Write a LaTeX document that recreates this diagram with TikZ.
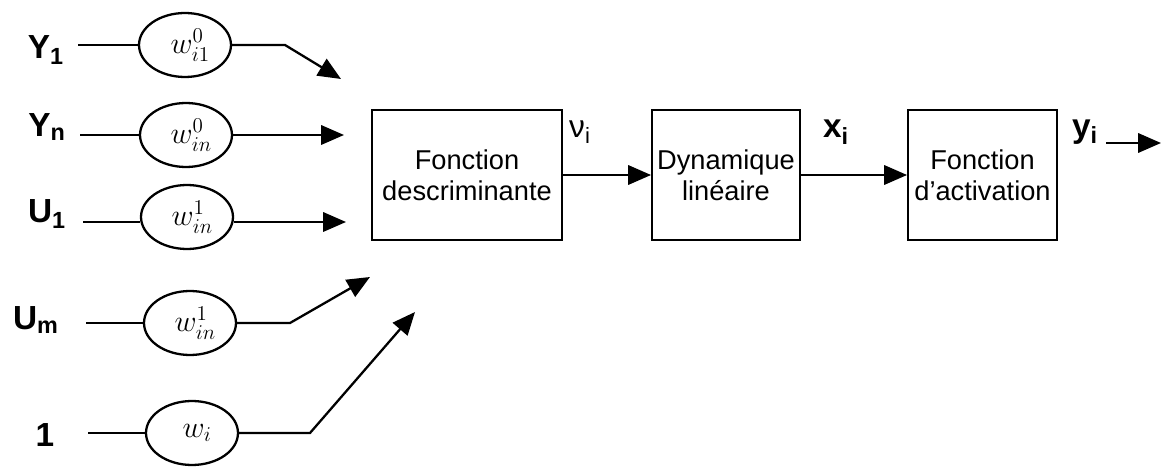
\documentclass[tikz,border=0pt]{standalone}
\usepackage{fontspec}
\setmainfont{Liberation Sans}
\setsansfont{Liberation Sans}
\usetikzlibrary{shapes.geometric,arrows.meta}
\tikzset{
  lab/.style={font=\sffamily\bfseries\fontsize{19}{19}\selectfont, inner sep=0},
  sig/.style={font=\sffamily\fontsize{18}{18}\selectfont, inner sep=0},
  wt/.style={ellipse, draw, line width=1.3pt, minimum width=1.84cm, minimum height=1.28cm, inner sep=0, font=\fontsize{17}{17}\selectfont},
  blk/.style={draw, line width=1.1pt, align=center, font=\fontsize{15.5}{17.5}\selectfont, inner sep=0, minimum height=2.6cm},
  conn/.style={line width=1.3pt},
  arr/.style={conn, -{Triangle[length=13pt,width=11pt]}}
}
\begin{document}
\begin{tikzpicture}[x=0.02cm,y=-0.02cm]
\useasboundingbox (0,0) rectangle (1162,469);
% input labels
\node[lab] (ly1) at (46,50) {Y\textsubscript{1}};
\node[lab] (lyn) at (47,127) {Y\textsubscript{n}};
\node[lab] (lu1) at (47,214) {U\textsubscript{1}};
\node[lab] (lum) at (36,320) {U\textsubscript{m}};
\node[lab] (lone) at (45,435) {1};
% weights
\node[wt] (e1) at (185,45) {\hspace*{6pt}$w^{0}_{i1}$};
\node[wt] (e2) at (186,135) {\hspace*{6pt}$w^{0}_{in}$};
\node[wt] (e3) at (187,217) {\hspace*{6pt}$w^{1}_{in}$};
\node[wt] (e4) at (190,323) {\hspace*{6pt}$w^{1}_{in}$};
\node[wt] (e5) at (192,433) {\hspace*{6pt}$w_{i}$};
% start / bend / tip coordinates
\coordinate (s1) at (78,45);
\coordinate (s2) at (80,135);
\coordinate (s3) at (83,222);
\coordinate (s4) at (86,323);
\coordinate (s5) at (88,433);
\coordinate (k1) at (285,45);
\coordinate (t1) at (341,79);
\coordinate (t2) at (344,135);
\coordinate (t3) at (346,222);
\coordinate (k4) at (290,323);
\coordinate (t4) at (370,277);
\coordinate (k5) at (310,433);
\coordinate (t5) at (415,312);
\draw[conn] (s1) -- (e1);
\draw[conn] (s2) -- (e2);
\draw[conn] (s3) -- (s3 -| e3.west);
\draw[conn] (s4) -- (e4);
\draw[conn] (s5) -- (e5);
\draw[arr] (e1) -- (k1) -- (t1);
\draw[arr] (e2) -- (t2);
\draw[arr] (e3.east |- t3) -- (t3);
\draw[arr] (e4) -- (k4) -- (t4);
\draw[arr] (e5) -- (k5) -- (t5);
% blocks
\node[blk, minimum width=3.8cm] (b1) at (467,175) {Fonction\\descriminante};
\node[blk, minimum width=2.96cm] (b2) at (726,175) {Dynamique\\lin\'eaire};
\node[blk, minimum width=2.98cm] (b3) at (982.5,175) {Fonction\\d'activation};
\draw[arr] (b1) -- (b2);
\draw[arr] (b2) -- (b3);
\node[sig] (nu) at (580,132) {ν\textsubscript{i}};
\node[lab] (xi) at (836,132) {x\textsubscript{i}};
\node[lab] (yi) at (1085,132) {y\textsubscript{i}};
\coordinate (o1) at (1106,143);
\coordinate (o2) at (1161,143);
\draw[arr] (o1) -- (o2);
\end{tikzpicture}
\end{document}
